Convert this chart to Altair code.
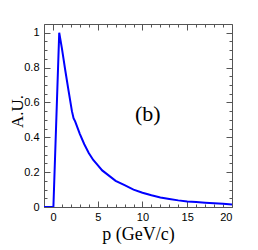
import altair as alt
import pandas as pd

# --- data ---
p_vals = [-1, 0, 0.05, 0.7, 1.0, 1.18, 1.37, 1.75, 2.12, 2.3, 2.49, 3.0, 3.5, 4.0,
          4.5, 5.0, 5.5, 6.0, 7.0, 8.0, 9.0, 10.0, 11.0, 12.0, 13.0, 14.0, 15.0,
          16.0, 17.0, 18.0, 19.0, 20.0]
au_vals = [0, 0, 0, 1.0, 0.91, 0.85, 0.786, 0.665, 0.55, 0.51, 0.49, 0.42, 0.36, 0.31,
           0.27, 0.24, 0.21, 0.19, 0.15, 0.125, 0.10, 0.082, 0.067, 0.055, 0.046, 0.038, 0.032,
           0.028, 0.024, 0.021, 0.018, 0.015]

x_major = [0, 5, 10, 15, 20]
x_all = [-1, 0, 1, 2, 3, 4, 5, 6, 7, 8, 9, 10, 11, 12, 13, 14, 15, 16, 17, 18, 19, 20]
y_major = [0, 0.2, 0.4, 0.6, 0.8, 1]
y_all = [0, 0.05, 0.1, 0.15, 0.2, 0.25, 0.3, 0.35, 0.4, 0.45, 0.5, 0.55, 0.6, 0.65,
         0.7, 0.75, 0.8, 0.85, 0.9, 0.95, 1.0]

label_text = ["(b)"]
label_p = [10.6]
label_au = [0.533]

df = pd.DataFrame({"p": p_vals, "au": au_vals})
lab = pd.DataFrame({"t": label_text, "p": label_p, "au": label_au})

W, H = 188, 183
xs = alt.Scale(domain=[-1, 20], nice=False, zero=False)
ys = alt.Scale(domain=[0, 1.05], nice=False, zero=False)

FR = "#555555"
x_tick_size = {"condition": {"test": "datum.value % 5 === 0", "value": 6}, "value": 3}
y_tick_size = {"condition": {"test": "abs(datum.value*5 - round(datum.value*5)) < 0.001",
                             "value": 6}, "value": 3}

# curve layer carries the tick labels and the axis titles
ax_x_lab = alt.Axis(orient="bottom", values=x_major, ticks=False, tickSize=0, domain=False,
                    labelPadding=4, labelFont="Liberation Sans", labelFontSize=11,
                    labelColor="#000", title="p (GeV/c)", titleFont="Liberation Serif",
                    titleFontSize=18, titleFontWeight="normal", titleColor="#000",
                    titleBaseline="alphabetic", titleY=32, titleX=W / 2, titleAnchor="middle")
ax_y_lab = alt.Axis(orient="left", values=y_major, ticks=False, tickSize=0, domain=False,
                    labelPadding=5, labelFont="Liberation Sans", labelFontSize=11,
                    labelColor="#000", labelExpr="format(datum.value, '~g')",
                    title="A.U.", titleFont="Liberation Serif", titleFontSize=17,
                    titleFontWeight="normal", titleColor="#000", titleAngle=270,
                    titleBaseline="alphabetic", titleAlign="center", titleX=-22, titleY=87)

curve = alt.Chart(df).mark_line(color="#0000ff", strokeWidth=2, clip=True).encode(
    x=alt.X("p:Q", scale=xs, axis=ax_x_lab),
    y=alt.Y("au:Q", scale=ys, axis=ax_y_lab),
)

# inward ticks on the bottom and left edges
ax_x_b = alt.Axis(orient="top", offset=-H, values=x_all, labels=False, domain=False,
                  tickSize=x_tick_size, tickColor=FR, tickWidth=1, title="")
ax_y_l = alt.Axis(orient="right", offset=-W, values=y_all, labels=False, domain=False,
                  tickSize=y_tick_size, tickColor=FR, tickWidth=1, title="")
ticks1 = alt.Chart(df).mark_line(strokeOpacity=0).encode(
    x=alt.X("p:Q", scale=xs, axis=ax_x_b),
    y=alt.Y("au:Q", scale=ys, axis=ax_y_l),
)

# inward ticks on the top and right edges
ax_x_t = alt.Axis(orient="bottom", offset=-H, values=x_all, labels=False, domain=False,
                  tickSize=x_tick_size, tickColor=FR, tickWidth=1, title="")
ax_y_r = alt.Axis(orient="left", offset=-W, values=y_all, labels=False, domain=False,
                  tickSize=y_tick_size, tickColor=FR, tickWidth=1, title="")
ticks2 = alt.Chart(df).mark_line(strokeOpacity=0).encode(
    x=alt.X("p:Q", scale=xs, axis=ax_x_t),
    y=alt.Y("au:Q", scale=ys, axis=ax_y_r),
)

text = alt.Chart(lab).mark_text(font="Liberation Serif", fontSize=22, color="#000",
                                baseline="middle", align="center").encode(
    x=alt.X("p:Q", scale=xs, axis=None),
    y=alt.Y("au:Q", scale=ys, axis=None),
    text="t:N",
)

chart = alt.layer(ticks1, ticks2, curve, text).resolve_axis(
    x="independent", y="independent"
).properties(
    width=W, height=H,
    autosize=alt.AutoSizeParams(type="none"),
    padding={"left": 36, "top": 16, "right": 10, "bottom": 40},
).configure_axis(grid=False).configure_view(stroke=FR, strokeWidth=1)

chart.save("out.html", embed_options={"renderer": "svg", "actions": False})
